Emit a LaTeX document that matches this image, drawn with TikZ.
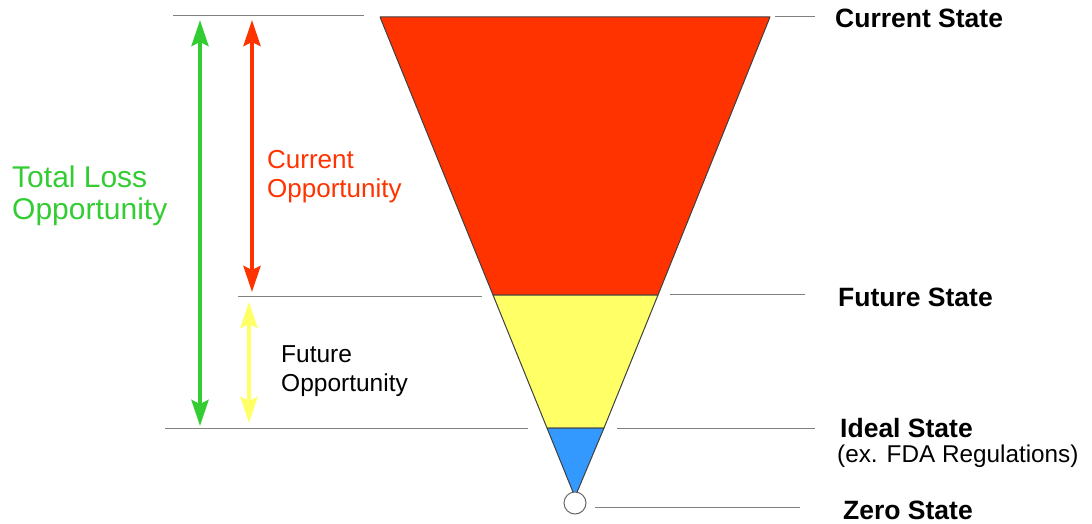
\documentclass[tikz,border=0pt]{standalone}
\usepackage{fontspec}
\setmainfont{Liberation Sans}
\usetikzlibrary{arrows.meta,positioning}

\definecolor{lossred}{RGB}{255,51,0}
\definecolor{lossyellow}{RGB}{255,255,102}
\definecolor{lossblue}{RGB}{51,153,255}
\definecolor{lossgreen}{RGB}{51,204,51}

\begin{document}
\begin{tikzpicture}[x=1pt, y=-1pt, >={Stealth[length=26pt,width=17pt,inset=4pt]},
    guide/.style={gray, line width=1pt},
    span/.style={<->, line width=4pt},
    level/.style={draw=black!75, line width=1pt, line join=round},
    statelabel/.style={anchor=west, inner sep=0pt, font=\fontsize{26.5}{29}\selectfont\bfseries},
    gaplabel/.style={anchor=north west, inner sep=0pt, align=left}]
    \useasboundingbox (0,0) rectangle (1092,524);

    % Funnel corners
    \coordinate (tl) at (380,17);
    \coordinate (tr) at (770,17);
    \coordinate (fl) at (493,295);
    \coordinate (fr) at (658,295);
    \coordinate (il) at (547,428);
    \coordinate (ir) at (604,428);
    \coordinate (apex) at (575,497);

    % Funnel levels
    \filldraw[level, fill=lossred] (tl) -- (tr) -- (fr) -- (fl) -- cycle;
    \filldraw[level, fill=lossyellow] (fl) -- (fr) -- (ir) -- (il) -- cycle;
    \filldraw[level, fill=lossblue] (il) -- (ir) -- (apex) -- cycle;
    \node[circle, draw=black!60, fill=white, line width=1pt, minimum size=22pt, inner sep=0pt] (zero) at (575,503) {};

    % Guide lines
    \coordinate (g1a) at (173,16);  \coordinate (g1b) at (364,16);
    \coordinate (g2a) at (775,17);  \coordinate (g2b) at (815,17);
    \coordinate (g3a) at (238,296); \coordinate (g3b) at (482,296);
    \coordinate (g4a) at (670,294); \coordinate (g4b) at (805,294);
    \coordinate (g5a) at (165,428); \coordinate (g5b) at (528,428);
    \coordinate (g6a) at (617,428); \coordinate (g6b) at (815,428);
    \coordinate (g7a) at (595,507); \coordinate (g7b) at (800,507);
    \foreach \a/\b in {g1a/g1b, g2a/g2b, g3a/g3b, g4a/g4b, g5a/g5b, g6a/g6b, g7a/g7b}
        \draw[guide] (\a) -- (\b);

    % Opportunity spans
    \coordinate (totaltop) at (200,20);  \coordinate (totalbot) at (200,426);
    \coordinate (curtop) at (252,20);    \coordinate (curbot) at (252,292);
    \coordinate (futtop) at (249,302);   \coordinate (futbot) at (249,423);
    \draw[span, lossgreen] (totaltop) -- (totalbot);
    \draw[span, lossred] (curtop) -- (curbot);
    \draw[span, lossyellow] (futtop) -- (futbot);

    % Span labels
    \node[gaplabel, text=lossgreen, font=\fontsize{30}{32}\selectfont] (totallbl) at (12,166) {Total Loss\\Opportunity};
    \node[gaplabel, text=lossred, font=\fontsize{26}{29}\selectfont] (curlbl) at (267,150) {Current\\Opportunity};
    \node[gaplabel, font=\fontsize{24.5}{29}\selectfont] (futlbl) at (281,345) {Future\\Opportunity};

    % State labels
    \node[statelabel] (curstate) at (835,18) {Current State};
    \node[statelabel] (futstate) at (838,297) {Future State};
    \node[statelabel] (idealstate) at (840,428) {Ideal State};
    \node[anchor=north west, inner sep=0pt, font=\fontsize{24.3}{29}\selectfont] (fda) at (837,445) {(ex. FDA Regulations)};
    \node[statelabel] (zerostate) at (843,510) {Zero State};
\end{tikzpicture}
\end{document}
